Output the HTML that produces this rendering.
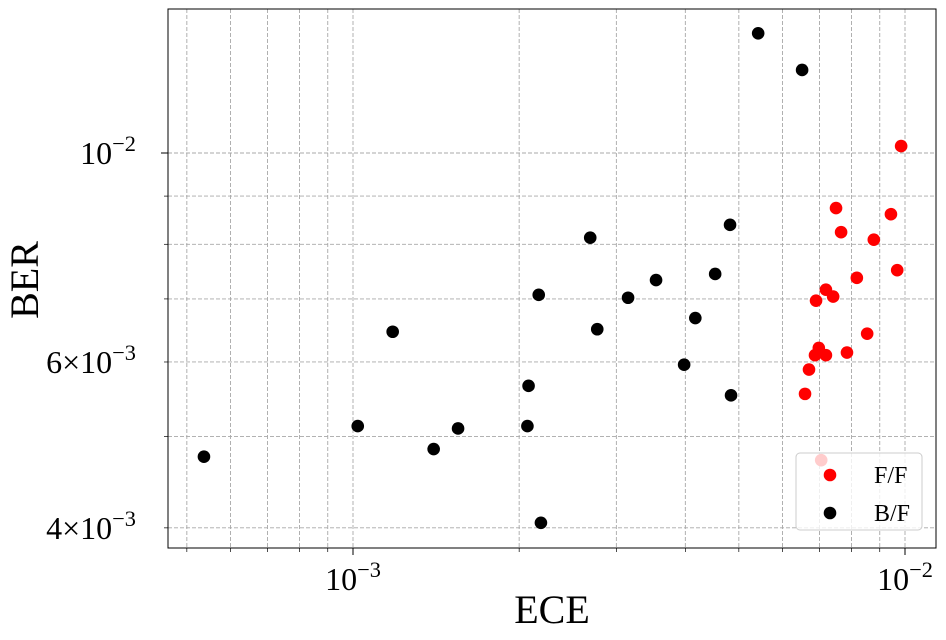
<!DOCTYPE html>
<html><head><meta charset="utf-8"><style>
body{margin:0;background:#fff;}
svg{display:block;font-family:"Liberation Serif",serif;}
</style></head><body>
<svg id="chart" width="946" height="640"></svg>
<script>
const ffX=[6.59e-3,6.70e-3,6.87e-3,6.90e-3,6.98e-3,7.05e-3,7.19e-3,7.19e-3,7.41e-3,7.50e-3,7.66e-3,7.85e-3,8.18e-3,8.54e-3,8.78e-3,9.43e-3,9.68e-3,9.84e-3];
const ffY=[5.55e-3,5.89e-3,6.10e-3,6.97e-3,6.21e-3,4.72e-3,7.16e-3,6.10e-3,7.04e-3,8.74e-3,8.24e-3,6.14e-3,7.37e-3,6.43e-3,8.09e-3,8.61e-3,7.51e-3,1.017e-2];
const bfX=[5.37e-4,1.02e-3,1.18e-3,1.40e-3,1.55e-3,2.07e-3,2.08e-3,2.17e-3,2.19e-3,2.69e-3,2.77e-3,3.15e-3,3.54e-3,3.98e-3,4.17e-3,4.53e-3,4.82e-3,4.84e-3,5.42e-3,6.51e-3];
const bfY=[4.76e-3,5.13e-3,6.46e-3,4.85e-3,5.10e-3,5.13e-3,5.66e-3,7.07e-3,4.05e-3,8.13e-3,6.50e-3,7.02e-3,7.33e-3,5.96e-3,6.68e-3,7.44e-3,8.39e-3,5.53e-3,1.34e-2,1.225e-2];
const xMinor=[5e-4,6e-4,7e-4,8e-4,9e-4,2e-3,3e-3,4e-3,5e-3,6e-3,7e-3,8e-3,9e-3];
const xMajor=[1e-3,1e-2];
const yMinor=[4e-3,5e-3,6e-3,7e-3,8e-3,9e-3];
const yMajor=[1e-2];

const NS="http://www.w3.org/2000/svg";
const svg=document.getElementById('chart');
const L=168,R=936,T=9,B=548;
function sx(v){return 353+(Math.log10(v)+3)*552;}
function sy(v){return 153-(Math.log10(v)+2)*942;}
function el(t,a,p){const e=document.createElementNS(NS,t);for(const k in a)e.setAttribute(k,a[k]);(p||svg).appendChild(e);return e;}

const grid=el('g',{});


xMinor.concat(xMajor).forEach(v=>{el('line',{x1:sx(v),x2:sx(v),y1:T,y2:B,stroke:'#a8a8a8','stroke-width':0.9,'stroke-dasharray':'4,2'},grid);
 const big=xMajor.includes(v);el('line',{x1:sx(v),x2:sx(v),y1:B,y2:B+(big?7:4),stroke:'#000','stroke-width':big?1:0.7});});
yMinor.concat(yMajor).forEach(v=>{el('line',{x1:L,x2:R,y1:sy(v),y2:sy(v),stroke:'#a8a8a8','stroke-width':0.9,'stroke-dasharray':'4,2'},grid);
 const big=yMajor.includes(v);el('line',{x1:L,x2:L-(big?7:4),y1:sy(v),y2:sy(v),stroke:'#000','stroke-width':big?1:0.7});});

function pts(xs,ys,color,name){const g=el('g',{});
 
 
 xs.forEach((x,i)=>{const c=el('circle',{cx:sx(x),cy:sy(ys[i]),r:6.3,fill:color},g);
  
  });}
pts(ffX,ffY,'#ff0000','ff-series');
pts(bfX,bfY,'#000000','bf-series');

el('rect',{x:L,y:T,width:R-L,height:B-T,fill:'none',stroke:'#000','stroke-width':1});

function txt(x,y,s,size,anchor,name,sup){const t=el('text',{x:x,y:y,'font-size':size,'text-anchor':anchor||'middle'});
 
 
 t.textContent=s;
 if(sup){const ts=el('tspan',{dy:-13,'font-size':size*0.7},t);ts.textContent=sup;}
 return t;}
txt(sx(1e-3),590,'10','32','middle','x-tick-label','−3');
txt(sx(1e-2),590,'10','32','middle','x-tick-label','−2');
txt(150,sy(1e-2)+11,'10','32','end','y-tick-label','−2').setAttribute('dx','-14');
txt(150,sy(6e-3)+11,'6×10','32','end','y-tick-label','−3').setAttribute('dx','-14');
txt(150,sy(4e-3)+11,'4×10','32','end','y-tick-label','−3').setAttribute('dx','-14');
txt(552,623,'ECE','40','middle','x-axis-title');
const yt=txt(38,280,'BER','40','middle','y-axis-title');yt.setAttribute('transform','rotate(-90 38 280)');

const lg=el('g',{});


el('rect',{x:796,y:453,width:126,height:77,rx:4,fill:'#fff','fill-opacity':0.8,stroke:'#ccc'},lg);
el('circle',{cx:830,cy:475,r:6.3,fill:'#ff0000'},lg);
el('circle',{cx:830,cy:513,r:6.3,fill:'#000'},lg);
txt(874,483,'F/F','24','start','legend-label-ff');
txt(874,521,'B/F','24','start','legend-label-bf');
</script>
</body></html>
